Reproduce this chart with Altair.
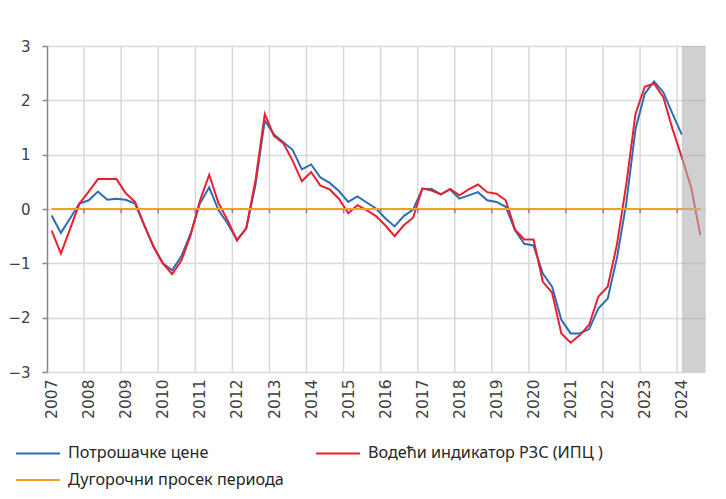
import altair as alt
import pandas as pd

years = list(range(2007, 2025))

# Потрошачке цене, 2007 Q1 - 2024 Q1
cpi = [-0.12, -0.44, -0.17, 0.10, 0.16, 0.32, 0.17, 0.19,
       0.17, 0.10, -0.30, -0.69, -1.00, -1.13, -0.87, -0.45,
       0.10, 0.40, -0.02, -0.27, -0.57, -0.36, 0.45, 1.63,
       1.37, 1.23, 1.09, 0.73, 0.82, 0.58, 0.48, 0.33,
       0.13, 0.23, 0.12, 0.01, -0.17, -0.32, -0.13, -0.01,
       0.37, 0.37, 0.27, 0.36, 0.19, 0.25, 0.31, 0.16,
       0.13, 0.04, -0.39, -0.64, -0.67, -1.19, -1.43, -2.04,
       -2.29, -2.29, -2.21, -1.83, -1.65, -0.90, 0.10, 1.47,
       2.12, 2.35, 2.15, 1.75, 1.37]

# Водећи индикатор РЗС (ИПЦ), 2007 Q1 - 2024 Q3
lead = [-0.40, -0.82, -0.36, 0.10, 0.32, 0.55, 0.55, 0.55,
        0.29, 0.13, -0.30, -0.70, -1.00, -1.20, -0.95, -0.48,
        0.15, 0.63, 0.11, -0.21, -0.58, -0.35, 0.53, 1.75,
        1.34, 1.21, 0.89, 0.51, 0.68, 0.43, 0.36, 0.19,
        -0.08, 0.07, -0.02, -0.13, -0.30, -0.50, -0.30, -0.16,
        0.38, 0.34, 0.27, 0.37, 0.25, 0.36, 0.45, 0.31,
        0.28, 0.16, -0.38, -0.56, -0.56, -1.34, -1.54, -2.29,
        -2.46, -2.32, -2.13, -1.61, -1.43, -0.65, 0.45, 1.75,
        2.25, 2.31, 2.06, 1.47, 0.95, 0.40, -0.48]

long_run_avg = 0.0
forecast_from = 68  # index of 2024 Q1
y_ticks = [-3, -2, -1, 0, 1, 2, 3]

S1 = "Потрошачке цене"
S2 = "Водећи индикатор РЗС (ИПЦ )"
S3 = "Дугорочни просек периода"
names = [S1, S2, S3]
colors = ["#2E6DB4", "#E8202F", "#F4A020"]

n = len(lead)
FONT = "Noto Sans"
AXFONT = "DejaVu Sans"
LBL = "#404040"

def series(vals, name):
    return pd.DataFrame({"t": [i + 0.5 for i in range(len(vals))], "v": vals, "s": name})

df1 = series(cpi, S1)
df2 = series(lead, S2)
df3 = series([long_run_avg] * n, S3)

xscale = alt.Scale(domain=[0, n], nice=False, zero=False)
yscale = alt.Scale(domain=[-3, 3], nice=False, zero=False)
cscale = alt.Scale(domain=names, range=colors)

xaxis = alt.Axis(values=[4 * k + 0.5 for k in range(len(years))],
                 labelExpr=f"floor(datum.value/4)+{years[0]}",
                 labelAngle=270, grid=False, domain=False, ticks=False,
                 labelOverlap=False, labelPadding=7, title=None,
                 labelFontSize=15.5, labelColor=LBL, labelFont=AXFONT)
yaxis = alt.Axis(values=y_ticks, format="d", grid=True, gridColor="#D9D9D9",
                 gridWidth=1.5, domainColor="#868686", domainWidth=1.5,
                 tickColor="#868686", tickWidth=1.5, tickSize=5, labelPadding=12,
                 title=None, labelFontSize=15, labelColor=LBL, labelFont=AXFONT)

legend = alt.Legend(title=None, orient="none", legendX=-21, legendY=395,
                    columns=2, direction="horizontal", gridAlign="each",
                    symbolType="M-2,0H2", symbolSize=484,
                    symbolStrokeWidth=2, labelFontSize=16.2, labelFont=FONT,
                    labelColor="#262626", labelOffset=18, columnPadding=28,
                    rowPadding=6, padding=0, labelLimit=400)

def line_layer(d):
    return alt.Chart(d).mark_line(strokeWidth=2).encode(
        x=alt.X("t:Q", scale=xscale, axis=xaxis),
        y=alt.Y("v:Q", scale=yscale, axis=yaxis),
        color=alt.Color("s:N", scale=cscale, legend=legend),
    )

bounds = pd.DataFrame({"b": [4 * (y - years[0]) for y in years[1:]]})

vgrid = alt.Chart(bounds).mark_rule(color="#D9D9D9", strokeWidth=1.5).encode(
    x=alt.X("b:Q", scale=xscale, axis=xaxis),
    y=alt.Y(datum=3, scale=yscale, axis=yaxis), y2=alt.datum(-3))
zticks = alt.Chart(bounds).mark_rule(color="#868686", strokeWidth=1.5).encode(
    x=alt.X("b:Q", scale=xscale, axis=xaxis),
    y=alt.Y(datum=0, scale=yscale, axis=yaxis), y2=alt.datum(-0.08))

shade = alt.Chart(pd.DataFrame({"a": [forecast_from + 0.5], "z": [n]})).mark_rect(
    color="#B0B0B0", opacity=0.6).encode(
    x=alt.X("a:Q", scale=xscale, axis=xaxis), x2="z:Q",
    y=alt.Y(datum=3, scale=yscale, axis=yaxis), y2=alt.datum(-3))

border = alt.Chart(pd.DataFrame({"k": [0]})).mark_rule(color="#BFBFBF", strokeWidth=1.5).encode(
    x=alt.value(-40), y=alt.value(-46), y2=alt.value(460))

chart = alt.layer(
    vgrid, line_layer(df1), line_layer(df2), line_layer(df3), zticks, shade, border
).properties(
    width=658, height=326,
    autosize=alt.AutoSizeParams(type="none"),
    padding={"left": 39, "top": 38, "right": 10, "bottom": 125},
).configure_view(stroke=None).configure_axisX(labelOverlap=False).configure(background="white")

chart.save("out.html", embed_options={"renderer": "svg", "actions": False})
